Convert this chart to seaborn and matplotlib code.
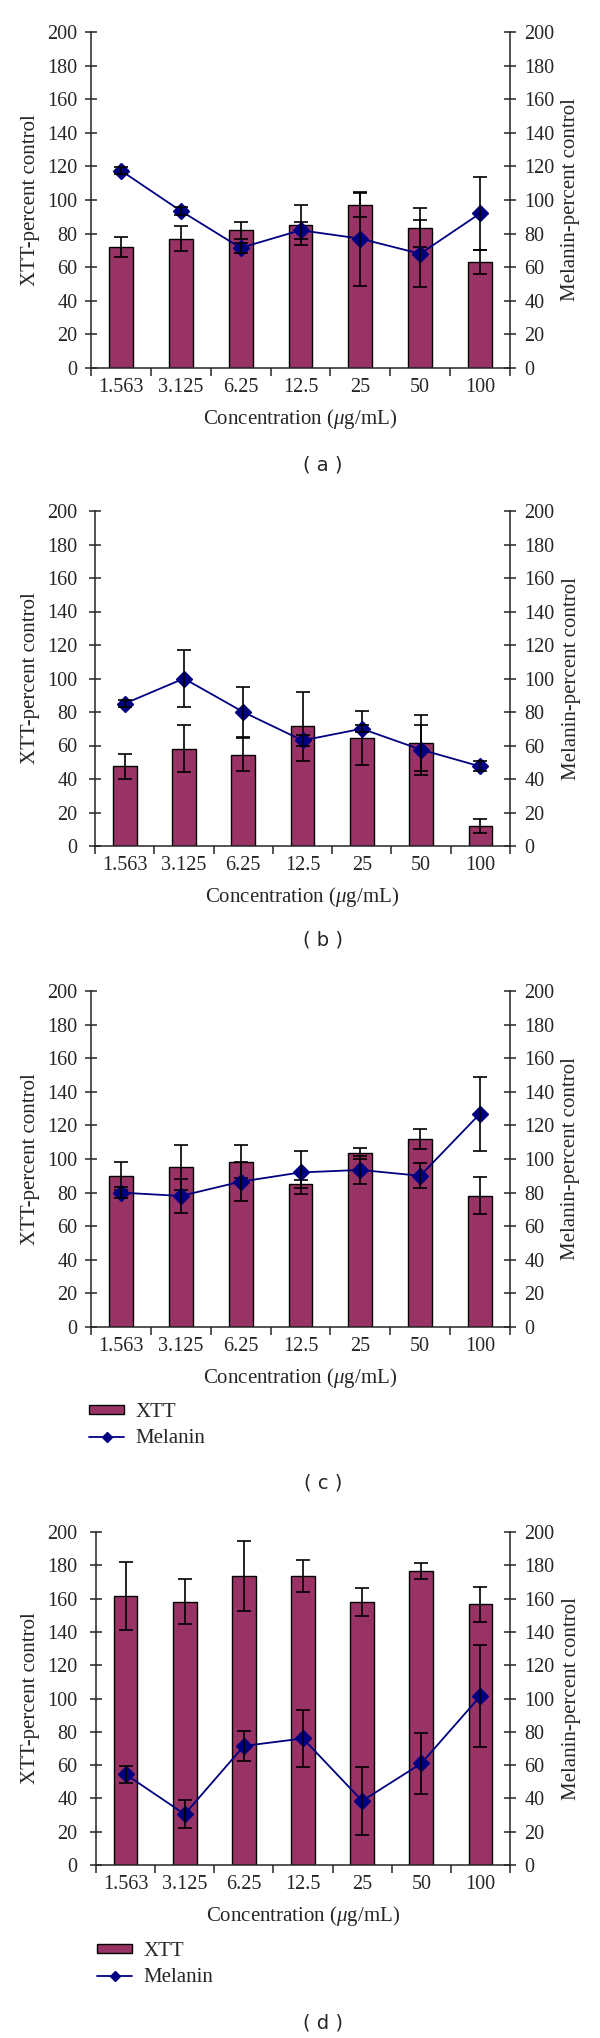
import numpy as np
import pandas as pd
import matplotlib
matplotlib.use("Agg")
import matplotlib.pyplot as plt
import seaborn as sns

# concentrations (x categories)
conc = ['1.563', '3.125', '6.25', '12.5', '25', '50', '100']

# panel (a)
xtt_a = [72, 77, 82, 85, 97, 83.5, 63]
xtt_a_err = [6, 7.5, 5, 12, 7, 11.7, 7]
mel_a = [117.5, 93.5, 71.5, 82, 77, 68, 92]
mel_a_err = [2, 2.5, 3, 5, 28, 20, 21.5]

# panel (b)
xtt_b = [47.5, 58, 54.5, 71.5, 64.5, 61.5, 12]
xtt_b_err = [7.5, 14, 10, 20.5, 16, 16.5, 4]
mel_b = [85, 100, 80, 63, 70, 57.5, 47.5]
mel_b_err = [2, 17, 15, 3.5, 2, 15, 3]

# panel (c)
xtt_c = [90, 95, 98.5, 85, 103.5, 112, 78]
xtt_c_err = [8.5, 13.5, 10, 2.5, 3.3, 6, 11]
mel_c = [80, 78, 86.5, 92, 93.5, 90, 127]
mel_c_err = [3.5, 10, 11.5, 13, 8.5, 7.5, 22]

# panel (d)
xtt_d = [161.5, 158, 173.5, 173.5, 158, 176.5, 156.5]
xtt_d_err = [20.5, 13.5, 21, 9.5, 8.5, 5, 10.5]
mel_d = [54.5, 30.5, 71.5, 76, 38.5, 61, 101.5]
mel_d_err = [5, 8.5, 9, 17, 20.5, 18.5, 30.5]

yticks = list(range(0, 201, 20))

BAR = '#993366'
NAVY = '#000080'
W, H = 600, 2038
PX = 72 / 100  # points per pixel at dpi 100
FS = 14.5

sns.set_theme(style='ticks')
plt.rcParams['font.family'] = ['Liberation Serif', 'DejaVu Serif']
plt.rcParams['mathtext.fontset'] = 'custom'
plt.rcParams['mathtext.rm'] = 'Liberation Serif'
plt.rcParams['mathtext.it'] = 'Liberation Serif:italic'
plt.rcParams['axes.linewidth'] = 1.1

fig = plt.figure(figsize=(W / 100, H / 100), dpi=100)

# (data, axes box in px: left, top, right, bottom, tag, tag y, legend centre y, legend x)
panels = [
    ((xtt_a, xtt_a_err, mel_a, mel_a_err), (91, 32, 510, 368), '( a )', 465, None, None),
    ((xtt_b, xtt_b_err, mel_b, mel_b_err), (95, 511, 510, 846), '( b )', 940, None, None),
    ((xtt_c, xtt_c_err, mel_c, mel_c_err), (91, 991, 510, 1327), '( c )', 1483, 1425.5, 89),
    ((xtt_d, xtt_d_err, mel_d, mel_d_err), (96, 1532, 510, 1865), '( d )', 2023, 1964.5, 97),
]

for (xtt, xtt_err, mel, mel_err), (l, t, r, b), tag, tag_y, leg_y, leg_x in panels:
    ax = fig.add_axes([l / W, 1 - b / H, (r - l) / W, (b - t) / H])
    df = pd.DataFrame({'Concentration': conc, 'XTT': xtt, 'Melanin': mel})
    pos = np.arange(len(conc))

    sns.barplot(data=df, x='Concentration', y='XTT', color=BAR, saturation=1,
                width=0.4, edgecolor='black', linewidth=1.0, ax=ax, label='XTT')
    ax.errorbar(pos, xtt, yerr=xtt_err, fmt='none', ecolor='black',
                elinewidth=1.2, capsize=5.2, capthick=1.2, zorder=3)

    ax2 = ax.twinx()
    sns.pointplot(data=df, x='Concentration', y='Melanin', ax=ax2, color=NAVY,
                  markers='D', markersize=8.5, linewidth=1.3, errorbar=None,
                  label='Melanin')
    ax2.errorbar(pos, mel, yerr=mel_err, fmt='none', ecolor='black',
                 elinewidth=1.2, capsize=5.2, capthick=1.2, zorder=5)
    h1, l1 = ax.get_legend_handles_labels()
    h2, l2 = ax2.get_legend_handles_labels()
    for a in (ax, ax2):
        if a.get_legend() is not None:
            a.get_legend().remove()

    for a in (ax, ax2):
        a.set_ylim(0, 200)
        a.set_yticks(yticks)
    ax.set_xlim(-0.5, len(conc) - 0.5)

    # x ticks at category boundaries, labels at centres
    ax.set_xticks(np.arange(len(conc) + 1) - 0.5, labels=[''] * (len(conc) + 1))
    ax.set_xticks(pos, labels=conc, minor=True)
    ax.tick_params(axis='x', which='major', direction='out', length=6, width=1.1)
    ax.tick_params(axis='x', which='minor', length=0, pad=7, labelsize=FS)

    ax.tick_params(axis='y', direction='inout', length=8, width=1.1, labelsize=FS,
                   pad=(l - 79) * PX - 2.9)
    ax2.tick_params(axis='y', direction='inout', length=8, width=1.1, labelsize=FS,
                    pad=6.5)

    ax.spines['top'].set_visible(False)
    ax.spines['right'].set_visible(False)
    for s in ('top', 'left', 'bottom'):
        ax2.spines[s].set_visible(False)

    aw, ah = r - l, b - t
    ax.set_xlabel(r'Concentration ($\mu$g/mL)', fontsize=15)
    ax.xaxis.set_label_coords(0.5, -51 / ah)
    ax.xaxis.label.set_va('center')
    ax.set_ylabel('XTT-percent control', fontsize=15)
    ax.yaxis.set_label_coords((31 - l) / aw, 0.5)
    ax.yaxis.label.set_va('center')
    ax2.set_ylabel('Melanin-percent control', fontsize=15, rotation=90)
    ax2.yaxis.set_label_coords((571 - l) / aw, 0.5)
    ax2.yaxis.label.set_va('center')

    fig.text(323 / W, 1 - tag_y / H, tag, ha='center', va='center',
             fontsize=14, family=['DejaVu Sans'])

    if leg_y is not None:
        ax.legend(h1 + h2, l1 + l2, loc='center left',
                  bbox_to_anchor=(leg_x / W, 1 - leg_y / H),
                  bbox_transform=fig.transFigure, frameon=False, fontsize=15,
                  borderpad=0, borderaxespad=0, handlelength=1.7,
                  handleheight=0.3, handletextpad=0.55, labelspacing=0.3,
                  markerscale=0.55)

fig.savefig('out.png', dpi=100)
